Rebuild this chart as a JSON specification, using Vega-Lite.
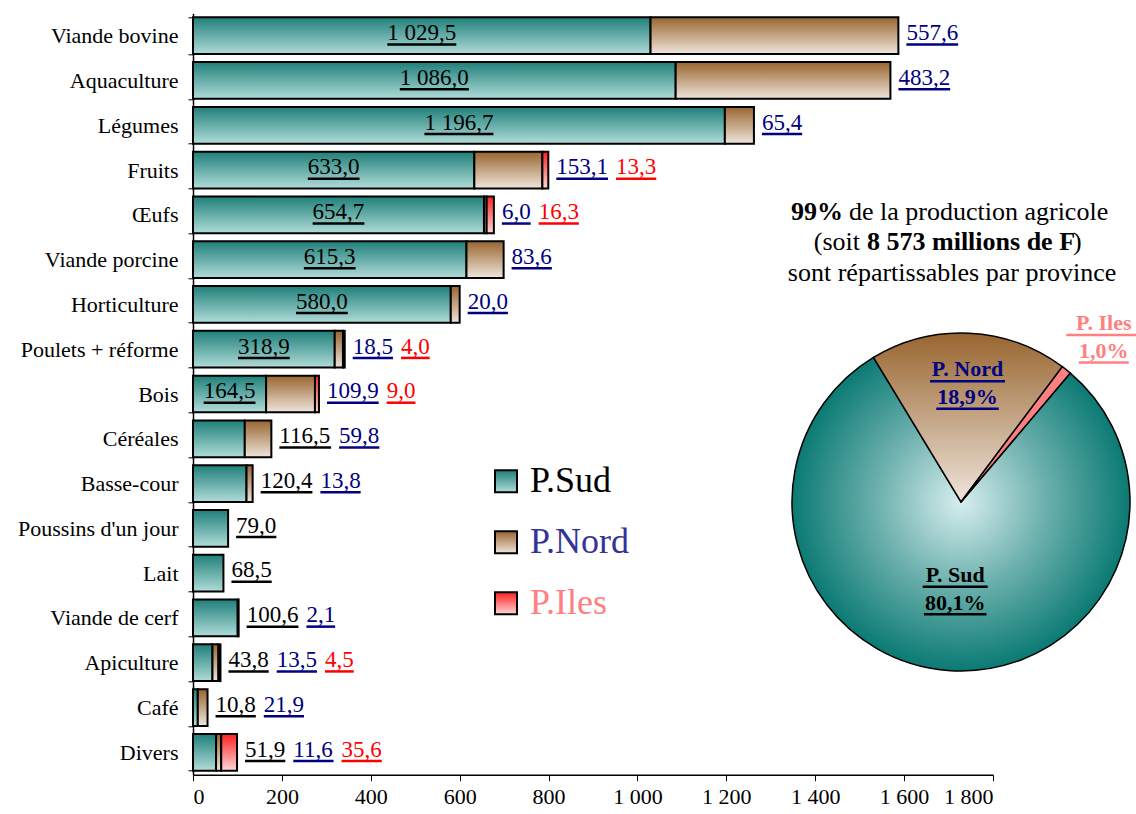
{
  "$schema": "https://vega.github.io/schema/vega-lite/v6.json",
  "width": 800,
  "height": 761.4,
  "autosize": {"type": "none"},
  "padding": {"left": 193, "top": 13.3, "right": 143, "bottom": 39.3},
  "background": "white",
  "config": {
    "view": {"stroke": null},
    "font": "Liberation Serif",
    "locale": {"number": {"decimal": ",", "thousands": " ", "grouping": [3], "currency": ["", ""]}}
  },
  "data": {"values": [
    {"cat": "Viande bovine", "prov": "P.Sud", "v": 1029.5},
    {"cat": "Viande bovine", "prov": "P.Nord", "v": 557.6},
    {"cat": "Aquaculture", "prov": "P.Sud", "v": 1086.0},
    {"cat": "Aquaculture", "prov": "P.Nord", "v": 483.2},
    {"cat": "Légumes", "prov": "P.Sud", "v": 1196.7},
    {"cat": "Légumes", "prov": "P.Nord", "v": 65.4},
    {"cat": "Fruits", "prov": "P.Sud", "v": 633.0},
    {"cat": "Fruits", "prov": "P.Nord", "v": 153.1},
    {"cat": "Fruits", "prov": "P.Iles", "v": 13.3},
    {"cat": "Œufs", "prov": "P.Sud", "v": 654.7},
    {"cat": "Œufs", "prov": "P.Nord", "v": 6.0},
    {"cat": "Œufs", "prov": "P.Iles", "v": 16.3},
    {"cat": "Viande porcine", "prov": "P.Sud", "v": 615.3},
    {"cat": "Viande porcine", "prov": "P.Nord", "v": 83.6},
    {"cat": "Horticulture", "prov": "P.Sud", "v": 580.0},
    {"cat": "Horticulture", "prov": "P.Nord", "v": 20.0},
    {"cat": "Poulets + réforme", "prov": "P.Sud", "v": 318.9},
    {"cat": "Poulets + réforme", "prov": "P.Nord", "v": 18.5},
    {"cat": "Poulets + réforme", "prov": "P.Iles", "v": 4.0},
    {"cat": "Bois", "prov": "P.Sud", "v": 164.5},
    {"cat": "Bois", "prov": "P.Nord", "v": 109.9},
    {"cat": "Bois", "prov": "P.Iles", "v": 9.0},
    {"cat": "Céréales", "prov": "P.Sud", "v": 116.5},
    {"cat": "Céréales", "prov": "P.Nord", "v": 59.8},
    {"cat": "Basse-cour", "prov": "P.Sud", "v": 120.4},
    {"cat": "Basse-cour", "prov": "P.Nord", "v": 13.8},
    {"cat": "Poussins d'un jour", "prov": "P.Sud", "v": 79.0},
    {"cat": "Lait", "prov": "P.Sud", "v": 68.5},
    {"cat": "Viande de cerf", "prov": "P.Sud", "v": 100.6},
    {"cat": "Viande de cerf", "prov": "P.Nord", "v": 2.1},
    {"cat": "Apiculture", "prov": "P.Sud", "v": 43.8},
    {"cat": "Apiculture", "prov": "P.Nord", "v": 13.5},
    {"cat": "Apiculture", "prov": "P.Iles", "v": 4.5},
    {"cat": "Café", "prov": "P.Sud", "v": 10.8},
    {"cat": "Café", "prov": "P.Nord", "v": 21.9},
    {"cat": "Divers", "prov": "P.Sud", "v": 51.9},
    {"cat": "Divers", "prov": "P.Nord", "v": 11.6},
    {"cat": "Divers", "prov": "P.Iles", "v": 35.6}
  ]},
  "layer": [
    {
      "mark": {"type": "bar", "stroke": "black", "strokeWidth": 2},
      "encoding": {
        "y": {
          "field": "cat", "type": "nominal", "sort": null,
          "scale": {"domain": ["Viande bovine","Aquaculture","Légumes","Fruits","Œufs","Viande porcine","Horticulture","Poulets + réforme","Bois","Céréales","Basse-cour","Poussins d'un jour","Lait","Viande de cerf","Apiculture","Café","Divers"], "paddingInner": 0.18, "paddingOuter": 0.09},
          "axis": {"title": null, "domainColor": "black", "domainWidth": 1.5, "tickBand": "extent", "tickColor": "black", "tickSize": 5, "labelFont": "Liberation Serif", "labelFontSize": 22, "labelColor": "black", "labelPadding": 10, "grid": false}
        },
        "x": {
          "field": "v", "type": "quantitative", "stack": "zero",
          "scale": {"domain": [0, 1800], "nice": false},
          "axis": {"title": null, "values": [0,200,400,600,800,1000,1200,1400,1600,1800], "format": ",.0f", "domainColor": "black", "domainWidth": 1.5, "tickColor": "black", "tickSize": 6, "labelFont": "Liberation Serif", "labelFontSize": 22, "labelColor": "black", "labelPadding": 6, "grid": false}
        },
        "color": {
          "field": "prov", "type": "nominal",
          "scale": {
            "domain": ["P.Sud", "P.Nord", "P.Iles"],
            "range": [
              {"expr": "{gradient: 'linear', x1: 0, y1: 0, x2: 0, y2: 1, stops: [{offset: 0, color: '#1f7f79'}, {offset: 1, color: '#b0dcd9'}]}"},
              {"expr": "{gradient: 'linear', x1: 0, y1: 0, x2: 0, y2: 1, stops: [{offset: 0, color: '#98652f'}, {offset: 1, color: '#efe5dc'}]}"},
              {"expr": "{gradient: 'linear', x1: 0, y1: 0, x2: 0, y2: 1, stops: [{offset: 0, color: '#ff2020'}, {offset: 1, color: '#ffd6d6'}]}"}
            ]
          },
          "legend": {
            "orient": "none", "legendX": 295, "legendY": 450, "title": null, "padding": 0,
            "symbolType": "square", "symbolSize": 484, "symbolStrokeColor": "black", "symbolStrokeWidth": 2, "symbolOpacity": 1,
            "labelFont": "Liberation Serif", "labelFontSize": 36, "labelOffset": 6, "rowPadding": 25, "labelLimit": 300,
            "encode": {"labels": {"update": {"fill": {"signal": "datum.value === 'P.Nord' ? '#333399' : datum.value === 'P.Iles' ? '#ff8080' : '#000000'"}}}}
          }
        },
        "order": {"field": "prov", "sort": "descending"}
      }
    },
    {
      "transform": [
        {"joinaggregate": [{"op": "sum", "field": "v", "as": "tot"}], "groupby": ["cat"]},
        {"calculate": "format(datum.v, ',.1f')", "as": "lbl"},
        {"calculate": "datum.prov === 'P.Sud' && datum.v > 150", "as": "inside"},
        {"calculate": "(length(datum.lbl) * 2 - (datum.v >= 1000 ? 2 : 1)) * 5.75", "as": "w"},
        {"calculate": "datum.inside ? 0 : datum.w + 8", "as": "step"},
        {"window": [{"op": "sum", "field": "step", "as": "cum"}], "groupby": ["cat"], "sort": [{"field": "prov", "order": "descending"}], "frame": [null, 0]},
        {"calculate": "datum.inside ? datum.v / 2 - datum.w * 1.125 : datum.tot + (8 + datum.cum - datum.step) * 2.25", "as": "x0"},
        {"calculate": "datum.x0 + datum.w * 2.25", "as": "x1"}
      ],
      "layer": [
        {
          "mark": {"type": "text", "align": "left", "baseline": "alphabetic", "dy": 4.3, "font": "Liberation Serif", "fontSize": 23},
          "encoding": {
            "y": {"field": "cat", "type": "nominal", "sort": null},
            "x": {"field": "x0", "type": "quantitative", "stack": null, "scale": {"domain": [0, 1800], "nice": false}},
            "text": {"field": "lbl"},
            "color": {"condition": [{"test": "datum.prov === 'P.Nord'", "value": "#000080"}, {"test": "datum.prov === 'P.Iles'", "value": "#ff0000"}], "value": "#000000"}
          }
        },
        {
          "mark": {"type": "rule", "strokeWidth": 2.5, "yOffset": 8.7},
          "encoding": {
            "y": {"field": "cat", "type": "nominal", "sort": null},
            "x": {"field": "x0", "type": "quantitative", "stack": null, "scale": {"domain": [0, 1800], "nice": false}},
            "x2": {"field": "x1"},
            "color": {"condition": [{"test": "datum.prov === 'P.Nord'", "value": "#000080"}, {"test": "datum.prov === 'P.Iles'", "value": "#ff0000"}], "value": "#000000"}
          }
        }
      ]
    },
    {
      "transform": [{"aggregate": [{"op": "sum", "field": "v", "as": "s"}], "groupby": ["prov"]}],
      "mark": {"type": "arc", "outerRadius": 169, "stroke": "black", "strokeWidth": 1.5, "yOffset": 18.4},
      "encoding": {
        "theta": {"field": "s", "type": "quantitative", "stack": true, "scale": {"range": [0.7034, -5.5798]}},
        "detail": {"field": "prov"},
        "order": {"field": "prov", "sort": "ascending"},
        "x": {"datum": 1728, "type": "quantitative", "scale": {"domain": [0, 1800], "nice": false}},
        "y": {"datum": "Basse-cour", "type": "nominal"},
        "fill": {
          "condition": [
            {"test": "datum.prov === 'P.Sud'", "value": {"gradient": "radial", "x1": 0.5, "y1": 0.4635, "r1": 0, "x2": 0.5, "y2": 0.4635, "r2": 0.5, "stops": [{"offset": 0, "color": "#d6eeee"}, {"offset": 0.5, "color": "#6cb0ad"}, {"offset": 1, "color": "#0b7a73"}]}},
            {"test": "datum.prov === 'P.Nord'", "value": {"gradient": "linear", "x1": 0, "y1": 0, "x2": 0, "y2": 1, "stops": [{"offset": 0, "color": "#98652f"}, {"offset": 1, "color": "#efe5dc"}]}}
          ],
          "value": "#ff8080"
        }
      }
    },
    {
      "transform": [
        {"aggregate": [{"op": "sum", "field": "v", "as": "s"}], "groupby": ["prov"]},
        {"joinaggregate": [{"op": "sum", "field": "s", "as": "all"}]},
        {"window": [{"op": "sum", "field": "s", "as": "cs"}], "sort": [{"field": "prov", "order": "ascending"}], "frame": [null, 0]},
        {"calculate": "0.7034 - 2 * PI * (datum.cs - datum.s / 2) / datum.all", "as": "ang"},
        {"calculate": "datum.prov === 'P.Sud' ? 73 : datum.prov === 'P.Nord' ? 133 : 229", "as": "r1"},
        {"calculate": "[replace(datum.prov, '.', '. '), format(datum.s / datum.all, '.1%')]", "as": "plbl"},
        {"calculate": "datum.r1 * sin(datum.ang)", "as": "px"},
        {"calculate": "datum.r1 * cos(datum.ang)", "as": "pyc"},
        {"calculate": "1728 + datum.px * 2.25", "as": "tx"},
        {"calculate": "10 * length(datum.plbl[0]) + 5", "as": "w1"},
        {"calculate": "12.5 * length(datum.plbl[1])", "as": "w2"},
        {"calculate": "1728 + (datum.px - datum.w1 / 2) * 2.25", "as": "u1a"},
        {"calculate": "1728 + (datum.px + datum.w1 / 2) * 2.25", "as": "u1b"},
        {"calculate": "1728 + (datum.px - datum.w2 / 2) * 2.25", "as": "u2a"},
        {"calculate": "1728 + (datum.px + datum.w2 / 2) * 2.25", "as": "u2b"}
      ],
      "layer": [
        {
          "mark": {"type": "text", "yOffset": {"expr": "18.4 - datum.pyc"}, "font": "Liberation Serif", "fontWeight": "bold", "fontSize": 22, "lineHeight": 28, "align": "center", "baseline": "middle"},
          "encoding": {
            "x": {"field": "tx", "type": "quantitative", "scale": {"domain": [0, 1800], "nice": false}},
            "y": {"datum": "Basse-cour", "type": "nominal"},
            "text": {"field": "plbl"},
            "color": {"condition": [{"test": "datum.prov === 'P.Nord'", "value": "#000080"}, {"test": "datum.prov === 'P.Iles'", "value": "#ff8080"}], "value": "#000000"}
          }
        },
        {
          "mark": {"type": "rule", "strokeWidth": 2.5, "yOffset": {"expr": "18.4 - datum.pyc + 12"}},
          "encoding": {
            "x": {"field": "u1a", "type": "quantitative", "scale": {"domain": [0, 1800], "nice": false}},
            "x2": {"field": "u1b"},
            "y": {"datum": "Basse-cour", "type": "nominal"},
            "color": {"condition": [{"test": "datum.prov === 'P.Nord'", "value": "#000080"}, {"test": "datum.prov === 'P.Iles'", "value": "#ff8080"}], "value": "#000000"}
          }
        },
        {
          "mark": {"type": "rule", "strokeWidth": 2.5, "yOffset": {"expr": "18.4 - datum.pyc + 39.5"}},
          "encoding": {
            "x": {"field": "u2a", "type": "quantitative", "scale": {"domain": [0, 1800], "nice": false}},
            "x2": {"field": "u2b"},
            "y": {"datum": "Basse-cour", "type": "nominal"},
            "color": {"condition": [{"test": "datum.prov === 'P.Nord'", "value": "#000080"}, {"test": "datum.prov === 'P.Iles'", "value": "#ff8080"}], "value": "#000000"}
          }
        }
      ]
    },
    {
      "data": {"values": [{}]},
      "mark": {"type": "text", "text": "99%", "align": "right", "baseline": "middle", "dy": -3, "font": "Liberation Serif", "fontSize": 26, "fontWeight": "bold", "color": "black"},
      "encoding": {"x": {"datum": 1462.5, "type": "quantitative"}, "y": {"datum": "Œufs", "type": "nominal"}}
    },
    {
      "data": {"values": [{}]},
      "mark": {"type": "text", "text": "de la production agricole", "align": "left", "baseline": "middle", "dy": -3, "font": "Liberation Serif", "fontSize": 26, "color": "black"},
      "encoding": {"x": {"datum": 1476, "type": "quantitative"}, "y": {"datum": "Œufs", "type": "nominal"}}
    },
    {
      "data": {"values": [{}]},
      "mark": {"type": "text", "text": "(soit", "align": "right", "baseline": "middle", "dy": 27, "font": "Liberation Serif", "fontSize": 26, "color": "black"},
      "encoding": {"x": {"datum": 1500.75, "type": "quantitative"}, "y": {"datum": "Œufs", "type": "nominal"}}
    },
    {
      "data": {"values": [{}]},
      "mark": {"type": "text", "text": "8 573 millions de F", "align": "left", "baseline": "middle", "dy": 27, "font": "Liberation Serif", "fontSize": 26, "fontWeight": "bold", "color": "black"},
      "encoding": {"x": {"datum": 1516.5, "type": "quantitative"}, "y": {"datum": "Œufs", "type": "nominal"}}
    },
    {
      "data": {"values": [{}]},
      "mark": {"type": "text", "text": ")", "align": "left", "baseline": "middle", "dy": 27, "font": "Liberation Serif", "fontSize": 26, "color": "black"},
      "encoding": {"x": {"datum": 1980, "type": "quantitative"}, "y": {"datum": "Œufs", "type": "nominal"}}
    },
    {
      "data": {"values": [{}]},
      "mark": {"type": "text", "text": "sont répartissables par province", "align": "center", "baseline": "middle", "dy": 58, "font": "Liberation Serif", "fontSize": 26, "color": "black"},
      "encoding": {"x": {"datum": 1708, "type": "quantitative"}, "y": {"datum": "Œufs", "type": "nominal"}}
    }
  ]
}
